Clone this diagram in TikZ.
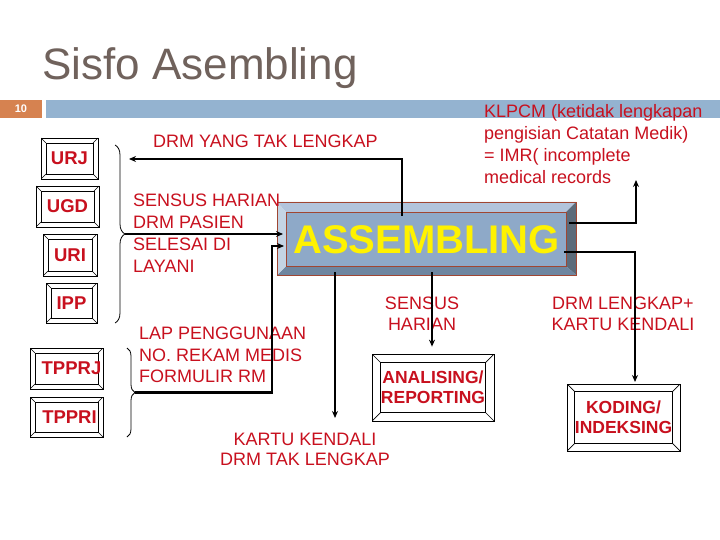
\documentclass[tikz,border=0pt]{standalone}
\usepackage{fontspec}
\setmainfont{Liberation Sans}
\usetikzlibrary{arrows.meta,decorations.pathreplacing}
\definecolor{txtred}{RGB}{200,16,30}
\definecolor{titlegray}{RGB}{112,98,92}
\definecolor{hdrorange}{RGB}{214,130,80}
\definecolor{hdrblue}{RGB}{148,179,208}
\definecolor{asmface}{RGB}{142,169,200}
\definecolor{asmtop}{RGB}{178,196,220}
\definecolor{asmleft}{RGB}{196,212,228}
\definecolor{asmright}{RGB}{92,107,122}
\definecolor{asmbot}{RGB}{110,134,160}
\definecolor{asmborder}{RGB}{160,70,50}
\begin{document}
\begin{tikzpicture}[x=1pt, y=-1pt, >={Stealth[length=7pt,width=6pt]},
  conn/.style={line width=2.2pt},
  lbl/.style={text=txtred, inner sep=0pt, font=\fontsize{18}{#1}\selectfont},
  lbl/.default=22,
  boxlbl/.style={text=txtred, align=center, font=\bfseries\fontsize{#1}{20}\selectfont},
  boxlbl/.default=18.5,
  bevel/.style={draw, fill=white, line width=0.7pt, inner sep=0pt,
    path picture={
      \draw[line width=0.7pt] ([shift={(#1pt,-#1pt)}]path picture bounding box.north west)
        rectangle ([shift={(-#1pt,#1pt)}]path picture bounding box.south east);
      \draw[line width=0.7pt] (path picture bounding box.north west) -- ++(#1pt,-#1pt)
        (path picture bounding box.north east) -- ++(-#1pt,-#1pt)
        (path picture bounding box.south west) -- ++(#1pt,#1pt)
        (path picture bounding box.south east) -- ++(-#1pt,#1pt);
    }},
  asmbox/.style={draw=asmborder, line width=0.9pt, inner sep=0pt,
    path picture={
      \path (path picture bounding box.north west) coordinate (o1)
        (path picture bounding box.north east) coordinate (o2)
        (path picture bounding box.south east) coordinate (o3)
        (path picture bounding box.south west) coordinate (o4);
      \path ([shift={(9pt,-10pt)}]o1) coordinate (i1)
        ([shift={(-10pt,-10pt)}]o2) coordinate (i2)
        ([shift={(-10pt,9pt)}]o3) coordinate (i3)
        ([shift={(9pt,9pt)}]o4) coordinate (i4);
      \fill[asmtop] (o1) -- (o2) -- (i2) -- (i1) -- cycle;
      \fill[asmright] (o2) -- (o3) -- (i3) -- (i2) -- cycle;
      \fill[asmbot] (o3) -- (o4) -- (i4) -- (i3) -- cycle;
      \fill[asmleft] (o4) -- (o1) -- (i1) -- (i4) -- cycle;
      \fill[asmface] (i1) rectangle (i3);
      \draw[asmborder, line width=0.5pt] (i1) rectangle (i3);
    }},
  curly/.style={decorate, decoration={brace, amplitude=#1}, line width=0.8pt}]
\useasboundingbox[fill=white] (0,0) rectangle (720,540);

\node[anchor=base west, text=titlegray, inner sep=0pt, font=\fontsize{44}{44}\selectfont] (title) at (42,80) {Sisfo Asembling};
\fill[hdrblue] (46,100) rectangle (720,118);
\node[fill=hdrorange, minimum width=42pt, minimum height=18pt, inner sep=0pt, text=white, font=\bfseries\fontsize{11}{11}\selectfont] (num) at (21,109) {10};

\node[bevel=5, minimum width=57pt, minimum height=41pt] (urj) at (69.5,158.5) {};
\node[boxlbl] at (urj) {URJ};
\node[bevel=5, minimum width=63pt, minimum height=41pt] (ugd) at (67.5,206.5) {};
\node[boxlbl] at (ugd) {UGD};
\node[bevel=5, minimum width=54pt, minimum height=42pt] (uri) at (70,255) {};
\node[boxlbl] at (uri) {URI};
\node[bevel=5, minimum width=51pt, minimum height=40pt] (ipp) at (71.5,303) {};
\node[boxlbl] at (ipp) {IPP};
\node[bevel=5, minimum width=73pt, minimum height=41pt] (tpprj) at (66.5,368.5) {};
\node[boxlbl] at ([xshift=5pt]tpprj) {TPPRJ};
\node[bevel=5, minimum width=73pt, minimum height=40pt] (tppri) at (66.5,417) {};
\node[boxlbl] at ([xshift=3pt]tppri) {TPPRI};

\node[bevel=8.5, minimum width=122pt, minimum height=67pt] (ana) at (433,387.5) {};
\node[boxlbl=17.5] at (ana) {ANALISING/\\REPORTING};
\node[bevel=7.5, minimum width=113pt, minimum height=67pt] (kod) at (623.5,417.5) {};
\node[boxlbl=17.5] at (kod) {KODING/\\INDEKSING};

\node[asmbox, minimum width=299pt, minimum height=73pt] (asm) at (426.5,238.5) {};
\node[text=yellow, font=\bfseries\fontsize{40}{40}\selectfont] at ([yshift=-1pt]asm) {ASSEMBLING};

\draw[curly=10pt] (115,145) -- (115,323);
\coordinate (b1) at (125,234);
\draw[curly=8pt] (127,348) -- (127,437);
\coordinate (b2) at (135,392.5);

\node[lbl, anchor=west] (drmtak) at (153,141) {DRM YANG TAK LENGKAP};
\node[lbl, anchor=north west, align=left] (klpcm) at (484,104) {KLPCM (ketidak lengkapan\\pengisian Catatan Medik)\\= IMR( incomplete\\medical records};
\node[lbl, anchor=north west, align=left] (sensus) at (133,194) {SENSUS HARIAN\\DRM PASIEN\\SELESAI DI\\LAYANI};
\node[lbl=21.5, anchor=north west, align=left] (lap) at (139,327) {LAP PENGGUNAAN\\NO. REKAM MEDIS\\FORMULIR RM};
\node[lbl=21, anchor=north, align=center] (sensus2) at (422,297) {SENSUS\\HARIAN};
\node[lbl=21, anchor=north, align=center] (drmlkp) at (623,297) {DRM LENGKAP+\\KARTU KENDALI};
\node[lbl=20, anchor=north, align=center] (kartu) at (305,433) {KARTU KENDALI\\DRM TAK LENGKAP};

\coordinate (asmtop) at (402,216);
\coordinate (urjin) at (129,159);
\draw[conn,->] (asmtop) |- (urjin);
\coordinate (asmw1) at (283,234);
\draw[conn,->] (b1) -- (asmw1);
\coordinate (lapbend) at (272,246);
\coordinate (asmw2) at (284,246);
\draw[conn,->] (b2) -| (lapbend) -- (asmw2);
\coordinate (asmb1) at (335,272);
\coordinate (kartuin) at (335,418);
\draw[conn,->] (asmb1) -- (kartuin);
\coordinate (asmb2) at (432,272);
\draw[conn,->,shorten >=7pt] (asmb2) -- (asmb2 |- ana.north);
\coordinate (asme1) at (569,223);
\coordinate (klpin) at (636,180);
\draw[conn,->] (asme1) -| (klpin);
\coordinate (asme2) at (564,252);
\coordinate (kodin) at (635,382);
\draw[conn,->] (asme2) -| (kodin);
\end{tikzpicture}
\end{document}
